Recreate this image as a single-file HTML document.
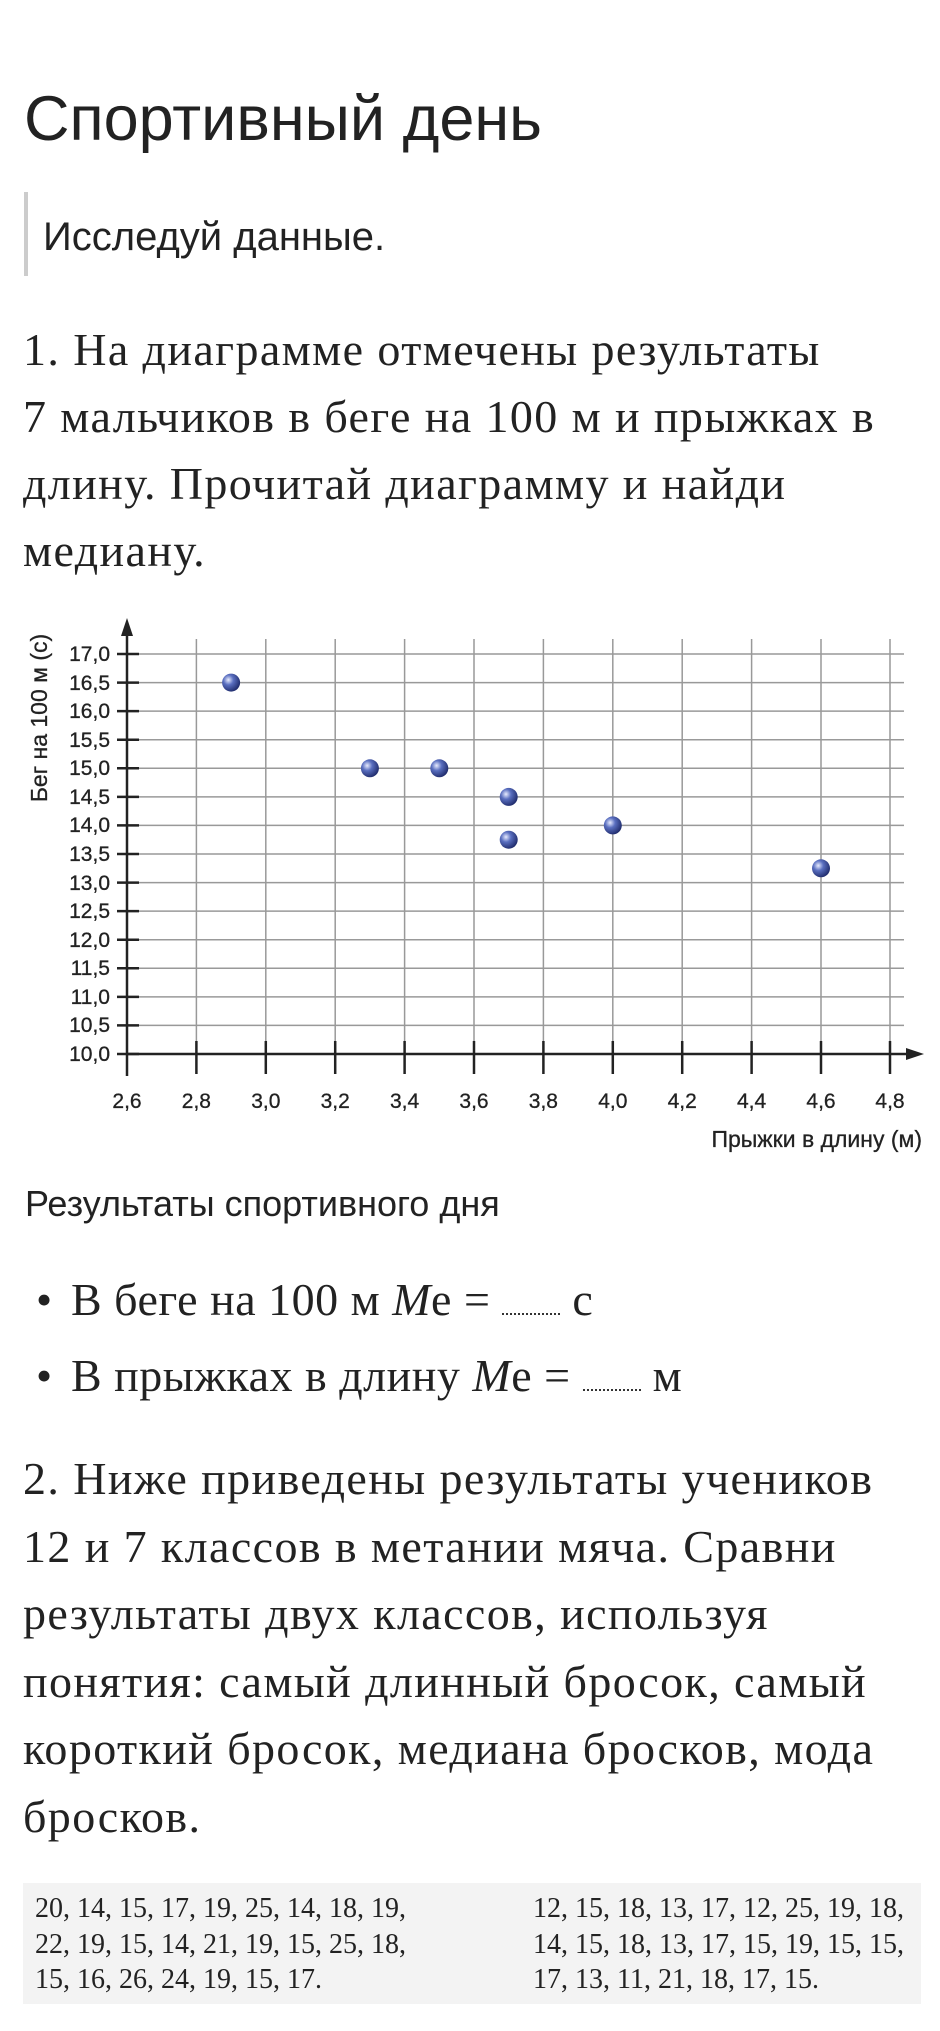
<!DOCTYPE html>
<html><head><meta charset="utf-8"><style>
body{margin:0;width:940px;height:2031px;background:#fff;position:relative;overflow:hidden;color:#222}
.a{position:absolute;white-space:nowrap}
.s{font-family:"Liberation Sans",sans-serif}
.r{font-family:"Liberation Serif",serif}
</style></head><body>
<div class="a s" style="left:24px;top:84px;font-size:63px;line-height:70px">Спортивный день</div>
<div class="a" style="left:24px;top:192px;width:4px;height:84px;background:#ccc"></div>
<div class="a s" style="left:43px;top:214px;font-size:40px;line-height:46px">Исследуй данные.</div>
<div class="a r" style="left:23px;top:316px;font-size:46px;letter-spacing:1.4px;line-height:67px">1. На диаграмме отмечены результаты<br>7 мальчиков в беге на 100 м и прыжках в<br>длину. Прочитай диаграмму и найди<br>медиану.</div>
<svg class="a" style="left:0;top:600px" width="940" height="560" viewBox="0 600 940 560">
<defs><radialGradient id="g" cx="0.35" cy="0.35" r="0.7"><stop offset="0" stop-color="#e8ecff"/><stop offset="0.4" stop-color="#5a6fc0"/><stop offset="1" stop-color="#1e2a6a"/></radialGradient></defs>
<g stroke="#999" stroke-width="1.5">
<line x1="139" y1="654" x2="904" y2="654"/><line x1="139" y1="682.6" x2="904" y2="682.6"/><line x1="139" y1="711.1" x2="904" y2="711.1"/><line x1="139" y1="739.7" x2="904" y2="739.7"/><line x1="139" y1="768.3" x2="904" y2="768.3"/><line x1="139" y1="796.9" x2="904" y2="796.9"/><line x1="139" y1="825.4" x2="904" y2="825.4"/><line x1="139" y1="854" x2="904" y2="854"/><line x1="139" y1="882.6" x2="904" y2="882.6"/><line x1="139" y1="911.1" x2="904" y2="911.1"/><line x1="139" y1="939.7" x2="904" y2="939.7"/><line x1="139" y1="968.3" x2="904" y2="968.3"/><line x1="139" y1="996.9" x2="904" y2="996.9"/><line x1="139" y1="1025.4" x2="904" y2="1025.4"/>
<line x1="196.4" y1="639" x2="196.4" y2="1054"/><line x1="265.8" y1="639" x2="265.8" y2="1054"/><line x1="335.2" y1="639" x2="335.2" y2="1054"/><line x1="404.6" y1="639" x2="404.6" y2="1054"/><line x1="474" y1="639" x2="474" y2="1054"/><line x1="543.4" y1="639" x2="543.4" y2="1054"/><line x1="612.8" y1="639" x2="612.8" y2="1054"/><line x1="682.2" y1="639" x2="682.2" y2="1054"/><line x1="751.6" y1="639" x2="751.6" y2="1054"/><line x1="821" y1="639" x2="821" y2="1054"/><line x1="890" y1="639" x2="890" y2="1054"/>
</g>
<g stroke="#222" stroke-width="2.5">
<line x1="127" y1="628" x2="127" y2="1076"/><line x1="127" y1="1054" x2="915" y2="1054"/>
<line x1="117" y1="654" x2="139" y2="654"/><line x1="117" y1="682.6" x2="139" y2="682.6"/><line x1="117" y1="711.1" x2="139" y2="711.1"/><line x1="117" y1="739.7" x2="139" y2="739.7"/><line x1="117" y1="768.3" x2="139" y2="768.3"/><line x1="117" y1="796.9" x2="139" y2="796.9"/><line x1="117" y1="825.4" x2="139" y2="825.4"/><line x1="117" y1="854" x2="139" y2="854"/><line x1="117" y1="882.6" x2="139" y2="882.6"/><line x1="117" y1="911.1" x2="139" y2="911.1"/><line x1="117" y1="939.7" x2="139" y2="939.7"/><line x1="117" y1="968.3" x2="139" y2="968.3"/><line x1="117" y1="996.9" x2="139" y2="996.9"/><line x1="117" y1="1025.4" x2="139" y2="1025.4"/><line x1="117" y1="1054" x2="139" y2="1054"/>
<line x1="196.4" y1="1041" x2="196.4" y2="1074"/><line x1="265.8" y1="1041" x2="265.8" y2="1074"/><line x1="335.2" y1="1041" x2="335.2" y2="1074"/><line x1="404.6" y1="1041" x2="404.6" y2="1074"/><line x1="474" y1="1041" x2="474" y2="1074"/><line x1="543.4" y1="1041" x2="543.4" y2="1074"/><line x1="612.8" y1="1041" x2="612.8" y2="1074"/><line x1="682.2" y1="1041" x2="682.2" y2="1074"/><line x1="751.6" y1="1041" x2="751.6" y2="1074"/><line x1="821" y1="1041" x2="821" y2="1074"/><line x1="890" y1="1041" x2="890" y2="1074"/>
</g>
<polygon points="127,618 121,636 133,636" fill="#222"/><polygon points="924,1054 906,1048 906,1060" fill="#222"/>
<g font-family="'Liberation Sans',sans-serif" font-size="21" fill="#222" text-anchor="end" stroke="#222" stroke-width="0.3">
<text x="110" y="661">17,0</text><text x="110" y="690">16,5</text><text x="110" y="718">16,0</text><text x="110" y="747">15,5</text><text x="110" y="775">15,0</text><text x="110" y="804">14,5</text><text x="110" y="832">14,0</text><text x="110" y="861">13,5</text><text x="110" y="890">13,0</text><text x="110" y="918">12,5</text><text x="110" y="947">12,0</text><text x="110" y="975">11,5</text><text x="110" y="1004">11,0</text><text x="110" y="1032">10,5</text><text x="110" y="1061">10,0</text>
</g>
<g font-family="'Liberation Sans',sans-serif" font-size="21" fill="#222" text-anchor="middle" stroke="#222" stroke-width="0.3">
<text x="127" y="1108">2,6</text><text x="196.4" y="1108">2,8</text><text x="265.8" y="1108">3,0</text><text x="335.2" y="1108">3,2</text><text x="404.6" y="1108">3,4</text><text x="474" y="1108">3,6</text><text x="543.4" y="1108">3,8</text><text x="612.8" y="1108">4,0</text><text x="682.2" y="1108">4,2</text><text x="751.6" y="1108">4,4</text><text x="821" y="1108">4,6</text><text x="890" y="1108">4,8</text>
<text x="922" y="1147" text-anchor="end" font-size="23">Прыжки в длину (м)</text>
<text transform="translate(47,718) rotate(-90)" font-size="23">Бег на 100 м (с)</text>
</g>
<g fill="url(#g)">
<circle cx="231.1" cy="682.6" r="9"/><circle cx="369.9" cy="768.3" r="9"/><circle cx="439.3" cy="768.3" r="9"/><circle cx="508.7" cy="796.9" r="9"/><circle cx="508.7" cy="839.7" r="9"/><circle cx="612.8" cy="825.4" r="9"/><circle cx="821" cy="868.3" r="9"/>
</g>
</svg>
<div class="a s" style="left:25px;top:1182px;font-size:36px;line-height:44px">Результаты спортивного дня</div>
<div class="a r" style="left:36px;top:1274px;font-size:46px;line-height:52px">•</div>
<div class="a r" style="left:71px;top:1274px;font-size:46px;letter-spacing:0.5px;line-height:52px">В беге на 100 м <i>М</i>е = <span style="display:inline-block;width:58px;border-bottom:2px dotted #333"></span> с</div>
<div class="a r" style="left:36px;top:1350px;font-size:46px;line-height:52px">•</div>
<div class="a r" style="left:71px;top:1350px;font-size:46px;letter-spacing:0.5px;line-height:52px">В прыжках в длину <i>М</i>е = <span style="display:inline-block;width:58px;border-bottom:2px dotted #333"></span> м</div>
<div class="a r" style="left:23px;top:1445px;font-size:46px;letter-spacing:1.4px;line-height:67.5px">2. Ниже приведены результаты учеников<br>12 и 7 классов в метании мяча. Сравни<br>результаты двух классов, используя<br>понятия: самый длинный бросок, самый<br>короткий бросок, медиана бросков, мода<br>бросков.</div>
<div class="a" style="left:23px;top:1883px;width:898px;height:121px;background:#f3f3f3"></div>
<div class="a r" style="left:35px;top:1891px;font-size:28px;line-height:35.5px;color:#222">20, 14, 15, 17, 19, 25, 14, 18, 19,<br>22, 19, 15, 14, 21, 19, 15, 25, 18,<br>15, 16, 26, 24, 19, 15, 17.</div>
<div class="a r" style="left:533px;top:1891px;font-size:28px;line-height:35.5px;color:#222">12, 15, 18, 13, 17, 12, 25, 19, 18,<br>14, 15, 18, 13, 17, 15, 19, 15, 15,<br>17, 13, 11, 21, 18, 17, 15.</div>
</body></html>
